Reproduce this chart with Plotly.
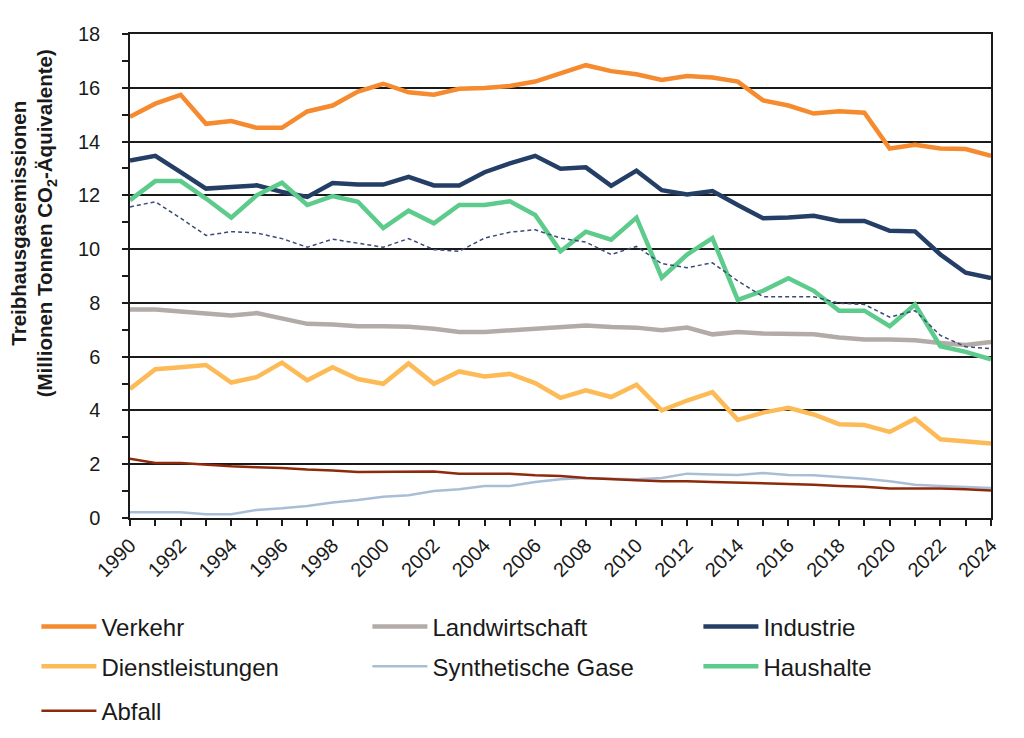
import plotly.graph_objects as go

years = list(range(1990, 2025))

verkehr = [14.92, 15.41, 15.74, 14.66, 14.76, 14.51, 14.51, 15.12, 15.34, 15.86,
           16.15, 15.83, 15.74, 15.96, 15.99, 16.07, 16.23, 16.54, 16.84, 16.62,
           16.50, 16.29, 16.44, 16.38, 16.23, 15.53, 15.34, 15.04, 15.13, 15.07,
           13.74, 13.88, 13.74, 13.72, 13.47]

landwirtschaft = [7.75, 7.75, 7.68, 7.59, 7.53, 7.62, 7.41, 7.22, 7.20, 7.13,
                  7.13, 7.11, 7.04, 6.92, 6.92, 6.98, 7.00, 7.08, 7.16, 7.10,
                  7.08, 6.98, 7.08, 6.83, 6.92, 6.86, 6.86, 6.83, 6.71, 6.64,
                  6.64, 6.61, 6.51, 6.43, 6.55]

industrie = [13.29, 13.47, 12.86, 12.25, 12.31, 12.37, 12.13, 11.94, 12.46, 12.40,
             12.40, 12.69, 12.37, 12.37, 12.86, 13.19, 13.47, 12.99, 13.04, 12.35,
             12.92, 12.19, 12.03, 12.16, 11.64, 11.15, 11.18, 11.24, 11.05, 11.05,
             10.68, 10.66, 9.80, 9.12, 8.92]

dienstleistungen = [4.80, 5.53, 5.61, 5.69, 5.04, 5.24, 5.78, 5.12, 5.61, 5.17,
                    4.99, 5.75, 4.99, 5.45, 5.26, 5.36, 5.02, 4.47, 4.75, 4.50,
                    4.96, 4.00, 4.37, 4.68, 3.65, 3.92, 4.10, 3.85, 3.49, 3.46,
                    3.20, 3.69, 2.93, 2.85, 2.77]

synthetische_gase = [0.21, 0.21, 0.21, 0.14, 0.14, 0.30, 0.36, 0.45, 0.58, 0.67,
                     0.79, 0.85, 1.00, 1.07, 1.19, 1.19, 1.34, 1.44, 1.49, 1.46,
                     1.44, 1.49, 1.65, 1.62, 1.60, 1.67, 1.60, 1.59, 1.53, 1.46,
                     1.37, 1.24, 1.19, 1.16, 1.12]

haushalte = [11.82, 12.53, 12.53, 11.88, 11.17, 12.00, 12.47, 11.64, 11.97, 11.76,
             10.78, 11.43, 10.96, 11.64, 11.64, 11.78, 11.27, 9.92, 10.65, 10.35,
             11.17, 8.94, 9.80, 10.41, 8.11, 8.45, 8.92, 8.45, 7.71, 7.71,
             7.13, 7.94, 6.39, 6.18, 5.90]

abfall = [2.20, 2.05, 2.05, 1.99, 1.92, 1.89, 1.86, 1.80, 1.77, 1.71,
          1.71, 1.72, 1.73, 1.65, 1.65, 1.65, 1.59, 1.56, 1.49, 1.44,
          1.40, 1.37, 1.37, 1.34, 1.32, 1.28, 1.28, 1.24, 1.19, 1.16,
          1.10, 1.10, 1.10, 1.07, 1.02]

haushalte_bereinigt = [11.57, 11.76, 11.15, 10.51, 10.65, 10.60, 10.39, 10.07, 10.37, 10.23,
                       10.07, 10.39, 9.98, 9.92, 10.41, 10.63, 10.72, 10.41, 10.26, 9.80,
                       10.10, 9.46, 9.31, 9.49, 8.82, 8.23, 8.23, 8.23, 7.99, 7.94,
                       7.47, 7.71, 6.79, 6.37, 6.30]

y_title = "<b>Treibhausgasemissionen<br>(Millionen Tonnen CO<sub>2</sub>-Äquivalente)</b>"

# name, values, colour, width, legend row, last-in-row
series = [
    ("Verkehr", verkehr, "#F58A2E", 4.5, "legend", False),
    ("Landwirtschaft", landwirtschaft, "#B3ABA7", 4.5, "legend", False),
    ("Industrie", industrie, "#243E66", 4.5, "legend", True),
    ("Dienstleistungen", dienstleistungen, "#FCBB57", 4.5, "legend2", False),
    ("Synthetische Gase", synthetische_gase, "#A9BED6", 2.5, "legend2", False),
    ("Haushalte", haushalte, "#5DCB8C", 4.5, "legend2", True),
    ("Abfall", abfall, "#8E2A0C", 2.5, "legend3", True),
]

fig = go.Figure()
for name, vals, color, width, leg, last in series:
    kw = dict(legendwidth=150) if last else {}
    fig.add_trace(go.Scatter(
        x=years, y=vals, name=name, mode="lines",
        line=dict(color=color, width=width),
        legend=leg, **kw,
    ))

fig.add_trace(go.Scatter(
    x=years, y=haushalte_bereinigt, name="Haushalte (witterungsbereinigt)",
    mode="lines", line=dict(color="#3B4B78", width=1.5, dash="4px,3px"),
    showlegend=False,
))

legend_common = dict(
    orientation="h", xanchor="left", yanchor="middle",
    x=-0.1087, entrywidth=261, entrywidthmode="pixels", itemwidth=55,
    font=dict(family="Liberation Sans, Arial, sans-serif", size=24, color="#1a1a1a"),
    bgcolor="rgba(0,0,0,0)", borderwidth=0,
)

fig.update_layout(
    width=1024, height=738,
    margin=dict(l=122, r=41, t=26, b=221.5),
    paper_bgcolor="white", plot_bgcolor="white",
    font=dict(family="Liberation Sans, Arial, sans-serif", color="#1a1a1a"),
    legend=dict(legend_common, y=-0.225),
    legend2=dict(legend_common, y=-0.307),
    legend3=dict(legend_common, y=-0.399),
    showlegend=True,
    annotations=[dict(
        text=y_title, textangle=-90, showarrow=False,
        xref="paper", yref="paper", x=-0.112, y=0.608,
        xanchor="center", yanchor="middle",
        font=dict(size=20.5, color="#1a1a1a"),
    )],
)

fig.update_xaxes(
    range=[1990, 2024], tickmode="linear", tick0=1990, dtick=2,
    tickangle=-45, tickfont=dict(size=20),
    ticks="outside", ticklen=6, tickcolor="#1a1a1a", tickwidth=1.5,
    minor=dict(dtick=1, ticks="outside", ticklen=6, tickcolor="#1a1a1a", tickwidth=1.5, showgrid=False),
    showgrid=False, showline=True, linecolor="#1a1a1a", linewidth=1.5, mirror=True,
    zeroline=False,
)

fig.update_yaxes(
    range=[0, 18], tickmode="linear", tick0=0, dtick=2,
    tickfont=dict(size=20), ticklabelstandoff=18,
    ticks="outside", ticklen=6, tickcolor="#1a1a1a", tickwidth=1.5,
    minor=dict(dtick=1, ticks="outside", ticklen=6, tickcolor="#1a1a1a", tickwidth=1.5, showgrid=False),
    showgrid=True, gridcolor="#1a1a1a", gridwidth=1.5,
    showline=True, linecolor="#1a1a1a", linewidth=1.5, mirror=True,
    zeroline=False,
)

fig.write_html("out.html")
